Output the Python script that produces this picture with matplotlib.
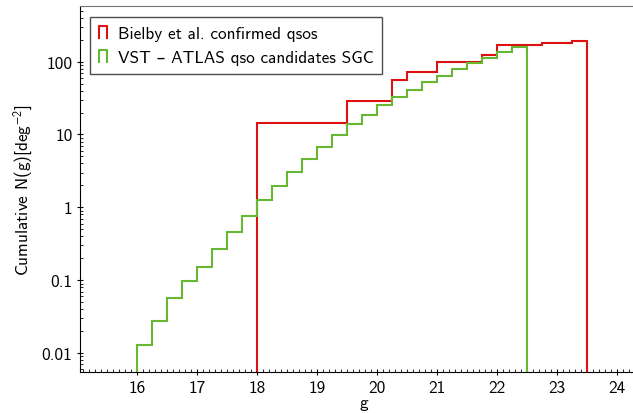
import numpy as np
import matplotlib
matplotlib.use("Agg")
import matplotlib.pyplot as plt
from matplotlib.lines import Line2D
from matplotlib.legend_handler import HandlerBase
from matplotlib.ticker import FixedLocator, FixedFormatter, MultipleLocator, LogLocator, NullFormatter

plt.rcParams['font.family'] = ['cmss10', 'DejaVu Sans']
plt.rcParams['mathtext.fontset'] = 'custom'
plt.rcParams['mathtext.rm'] = 'cmss10'
plt.rcParams['mathtext.default'] = 'regular'
plt.rcParams['axes.unicode_minus'] = False

# Bielby et al. confirmed qsos (cumulative counts per deg^2), bins of 0.25 mag
red_edges = [18.0, 18.25, 18.5, 18.75, 19.0, 19.25, 19.5, 19.75, 20.0, 20.25, 20.5,
             20.75, 21.0, 21.25, 21.5, 21.75, 22.0, 22.25, 22.5, 22.75, 23.0, 23.25, 23.5]
red_values = [14.4, 14.4, 14.4, 14.4, 14.4, 14.4, 28.9, 28.9, 28.9, 56.6, 71.3,
              71.3, 98.0, 98.0, 98.0, 125.0, 167.0, 170.0, 170.0, 181.0, 181.0, 194.0]

# VST-ATLAS qso candidates SGC
green_edges = [16.0, 16.25, 16.5, 16.75, 17.0, 17.25, 17.5, 17.75, 18.0, 18.25, 18.5,
               18.75, 19.0, 19.25, 19.5, 19.75, 20.0, 20.25, 20.5, 20.75, 21.0, 21.25,
               21.5, 21.75, 22.0, 22.25, 22.5]
green_values = [0.013, 0.0274, 0.0568, 0.098, 0.154, 0.267, 0.462, 0.767, 1.27, 1.98,
                3.08, 4.6, 6.7, 9.7, 13.8, 18.3, 25.1, 32.3, 41.2, 52.6, 63.0, 78.5,
                95.0, 112.0, 134.0, 159.0]

labels = ["Bielby et al. confirmed qsos", "VST \u2013 ATLAS qso candidates SGC"]
ytick_vals = [0.01, 0.1, 1, 10, 100]
ytick_labels = ["0.01", "0.1", "1", "10", "100"]
xtick_vals = [16, 17, 18, 19, 20, 21, 22, 23, 24]

RED = '#dd1111'
GREEN = '#66b732'
FS = 12.4

W, H = 633, 414
fig = plt.figure(figsize=(W / 100, H / 100), dpi=100)
xmin, xmax = 15.045, 24.5
px_per_unit = 60.0
left_px, bottom_px, top_px = 80, 373, 7
ax_w = (xmax - xmin) * px_per_unit
ax_h = bottom_px - top_px
ax = fig.add_axes([left_px / W, (H - bottom_px) / H, ax_w / W, ax_h / H])

ax.set_yscale('log')
ax.stairs(red_values, red_edges, baseline=1e-6, color=RED, lw=1.5, zorder=2)
ax.stairs(green_values, green_edges, baseline=1e-6, color=GREEN, lw=1.5, zorder=3)

ax.set_xlim(xmin, xmax)
ax.set_ylim(0.0055, 580)

ax.yaxis.set_major_locator(FixedLocator(ytick_vals))
ax.yaxis.set_major_formatter(FixedFormatter(ytick_labels))
ax.yaxis.set_minor_locator(LogLocator(base=10, subs=np.arange(2, 10)))
ax.yaxis.set_minor_formatter(NullFormatter())
ax.xaxis.set_major_locator(FixedLocator(xtick_vals))
ax.xaxis.set_minor_locator(MultipleLocator(0.1))

ax.tick_params(which='major', direction='inout', length=5, width=0.8, labelsize=FS,
               top=False, right=False, pad=3)
ax.tick_params(which='minor', direction='in', length=2.5, width=0.6, top=False, right=False)
ax.spines['top'].set_color('0.45')

ax.set_xlabel('g', fontsize=FS, labelpad=0)
ax.set_ylabel('Cumulative N(g)[deg$^{-2}$]', fontsize=FS, labelpad=5)


class StepHandler(HandlerBase):
    def create_artists(self, legend, orig_handle, xdescent, ydescent, width, height,
                       fontsize, trans):
        x0, x1 = -xdescent, -xdescent + width
        y0, y1 = -ydescent, -ydescent + height
        ln = Line2D([x0, x0, x1, x1], [y0, y1, y1, y0], color=orig_handle.get_color(),
                    lw=1.5, transform=trans)
        return [ln]


handles = [Line2D([], [], color=RED), Line2D([], [], color=GREEN)]
leg = ax.legend(handles, labels, loc='upper left',
                bbox_to_anchor=(10 / ax_w, 1 - 11 / ax_h), borderaxespad=0,
                fontsize=FS, handler_map={Line2D: StepHandler()},
                handlelength=0.5, handleheight=0.7, handletextpad=0.6,
                fancybox=False, framealpha=1, edgecolor='0.3',
                borderpad=0.5, labelspacing=0.55)
leg.get_frame().set_linewidth(1.0)

fig.savefig('out.png', dpi=100)
